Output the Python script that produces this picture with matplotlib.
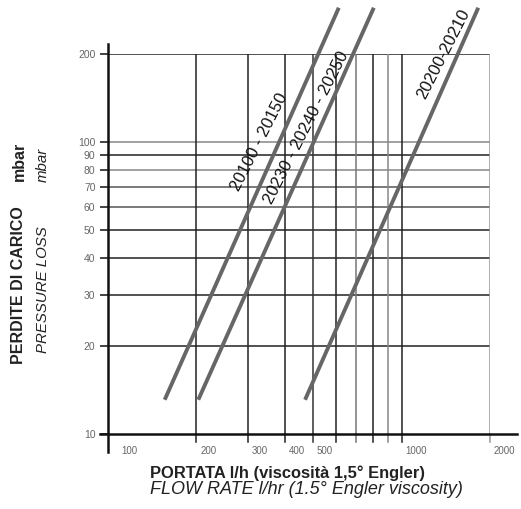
import matplotlib
matplotlib.use("Agg")
import matplotlib.pyplot as plt
from matplotlib.ticker import NullLocator, NullFormatter

plt.rcParams['font.family'] = ['Liberation Sans', 'DejaVu Sans']

# grid values
x_grid = [200, 300, 400, 500, 600, 700, 800, 900, 1000, 2000]
x_grid_col = ['#222', '#222', '#222', '#333', '#222', '#777', '#222', '#888', '#222', '#999']
x_labels = {100: '100', 200: '200', 300: '300', 400: '400', 500: '500',
            1000: '1000', 2000: '2000'}
y_grid = [20, 30, 40, 50, 60, 70, 80, 90, 100, 200]
y_grid_col = ['#222', '#222', '#222', '#222', '#555', '#555', '#888', '#222', '#888', '#222']
y_ticks = [10, 20, 30, 40, 50, 60, 70, 80, 90, 100, 200]

# curves: (flow start, flow end), (loss start, loss end)
curve_names = ['20100 - 20150', '20230 - 20240 - 20250', '20200-20210']
flow_start = [156, 203, 469]
flow_end = [611, 804, 1824]
loss_start = [13.1, 13.1, 13.1]
loss_end = [288, 288, 288]
# label anchor points (flow, loss)
label_flow = [327, 473, 1388]
label_loss = [100, 112, 200]

fig = plt.figure(figsize=(5.21, 5.09), dpi=100)
ax = fig.add_axes([108/521, 1-434/509, 382/521, 380/509])
ax.set_xscale('log')
ax.set_yscale('log')
ax.set_xlim(100, 2000)
ax.set_ylim(10, 200)
for s in ax.spines.values():
    s.set_visible(False)
ax.xaxis.set_major_locator(NullLocator())
ax.xaxis.set_minor_locator(NullLocator())
ax.yaxis.set_minor_locator(NullLocator())
ax.xaxis.set_minor_formatter(NullFormatter())
ax.yaxis.set_minor_formatter(NullFormatter())

# y ticks with labels
ax.set_yticks(y_ticks)
ax.set_yticklabels([str(v) for v in y_ticks], fontsize=7.5, color='#666')
ax.tick_params(axis='y', length=6, width=1.2, color='#222', pad=3)

# grid lines
for v, c in zip(y_grid, y_grid_col):
    ax.axhline(v, color=c, lw=1.1, zorder=1)
for v, c in zip(x_grid, x_grid_col):
    ax.axvline(v, color=c, lw=1.1, zorder=1)
    ax.plot([v, v], [10, 9.4], color=c, lw=1.1, clip_on=False)

# x tick labels (right of the tick, below axis)
for v, t in x_labels.items():
    ax.text(v * (1.11 if v == 100 else 1.03), 9.1, t, fontsize=7, color='#666',
            ha='left', va='top')

# axis frame lines extending past the plot area
ax.plot([0, 0], [-0.047, 1.026], transform=ax.transAxes, color='#111', lw=1.8,
        clip_on=False, zorder=3)
ax.plot([-0.02, 1.071], [0, 0], transform=ax.transAxes, color='#111', lw=1.8,
        clip_on=False, zorder=3)

# loss curves
for i, name in enumerate(curve_names):
    ax.plot([flow_start[i], flow_end[i]], [loss_start[i], loss_end[i]],
            color='#666', lw=2.8, solid_capstyle='butt', clip_on=False, zorder=4)
    ax.text(label_flow[i], label_loss[i], name, rotation=63, rotation_mode='anchor',
            ha='center', va='center', fontsize=12, color='#111', zorder=5)

# axis titles
fig.text(19/521, 1-285/509, 'PERDITE DI CARICO', rotation=90, ha='center', va='center',
         fontsize=11.5, fontweight='bold', color='#222')
fig.text(19/521, 1-161/509, 'mbar', rotation=90, ha='center', va='center',
         fontsize=11.5, fontweight='bold', color='#222')
fig.text(43/521, 1-290/509, 'PRESSURE LOSS', rotation=90, ha='center', va='center',
         fontsize=10.8, fontstyle='italic', color='#222')
fig.text(43/521, 1-165/509, 'mbar', rotation=90, ha='center', va='center',
         fontsize=10.8, fontstyle='italic', color='#222')
fig.text(288/521, 1-473/509, 'PORTATA l/h (viscosità 1,5° Engler)', ha='center',
         va='center', fontsize=11.9, fontweight='bold', color='#222')
fig.text(306/521, 1-489/509, 'FLOW RATE l/hr (1.5° Engler viscosity)', ha='center',
         va='center', fontsize=13, fontstyle='italic', color='#222')

fig.savefig('out.png', dpi=100)
